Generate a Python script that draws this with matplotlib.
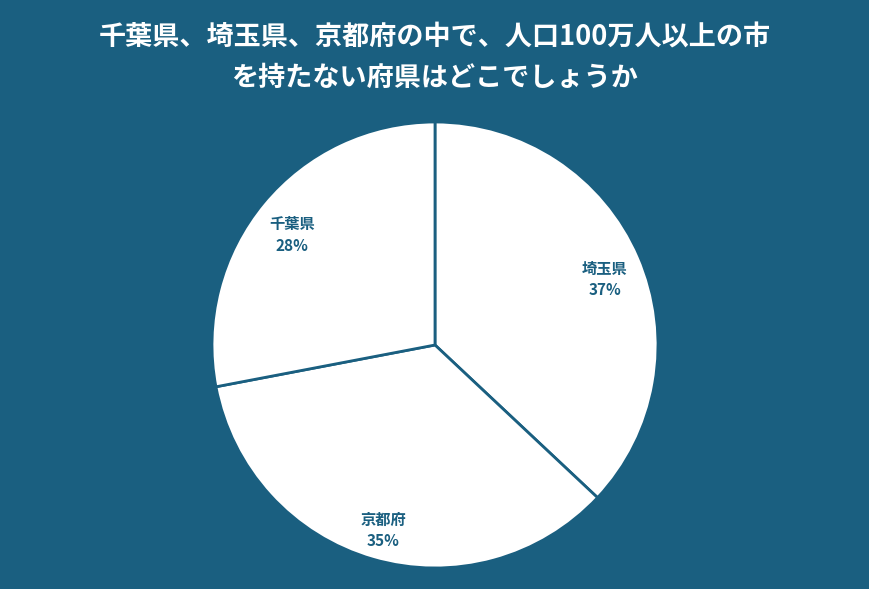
import matplotlib.pyplot as plt
import numpy as np

plt.rcParams['font.family'] = ['Noto Sans CJK JP', 'DejaVu Sans']

labels = ['埼玉県', '京都府', '千葉県']
values = [37, 35, 28]
title_lines = ['千葉県、埼玉県、京都府の中で、人口100万人以上の市', 'を持たない府県はどこでしょうか']

bg = '#1a5f80'

fig = plt.figure(figsize=(8.7, 5.89), dpi=100, facecolor=bg)
ax = fig.add_axes([(435 - 223) / 870, (589 - 568) / 589, 446 / 870, 446 / 589])
ax.set_facecolor(bg)

wedges, _ = ax.pie(values, startangle=90, counterclock=False,
                   colors=['white'] * len(values),
                   wedgeprops=dict(edgecolor=bg, linewidth=2))
ax.set_xlim(-1, 1)
ax.set_ylim(-1, 1)
ax.set_aspect('equal')

for w, lab, v in zip(wedges, labels, values):
    ang = np.deg2rad((w.theta1 + w.theta2) / 2)
    r = 0.83
    x, y = r * np.cos(ang), r * np.sin(ang)
    ax.annotate(lab, (x, y), xytext=(0, 2), textcoords='offset points',
                ha='center', va='center', color=bg, fontsize=11, fontweight='bold')
    ax.annotate(f'{v}%', (x, y), xytext=(0, -13.5), textcoords='offset points',
                ha='center', va='center', color=bg, fontsize=11, fontweight='bold')

fig.text(0.5, 1 - 38 / 589, title_lines[0], ha='center', va='center',
         color='white', fontsize=19.5, fontweight='bold')
fig.text(0.5, 1 - 78 / 589, title_lines[1], ha='center', va='center',
         color='white', fontsize=19.5, fontweight='bold')

fig.savefig('out.png', dpi=100, facecolor=bg)
